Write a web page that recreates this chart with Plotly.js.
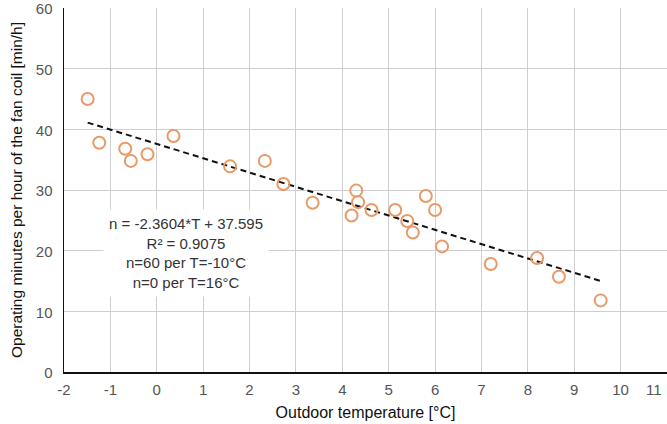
<!DOCTYPE html>
<html>
<head>
<meta charset="utf-8">
<script src="https://cdn.plot.ly/plotly-3.0.1.min.js"></script>
<style>html,body{margin:0;padding:0;background:#fff;}#chart{width:667px;height:424px;}</style>
</head>
<body>
<div id="chart"></div>
<script>
// Outdoor temperature [°C]
var temperature = [-1.49, -1.24, -0.68, -0.56, -0.20, 0.36, 1.58, 2.33, 2.73, 3.36, 4.20, 4.30, 4.34, 4.63, 5.14, 5.40, 5.52, 5.80, 6.00, 6.15, 7.20, 8.20, 8.67, 9.57];
// Operating minutes per hour [min/h]
var minutes = [45.0, 37.8, 36.8, 34.8, 35.9, 38.9, 33.9, 34.8, 31.0, 27.9, 25.8, 29.9, 28.0, 26.7, 26.7, 24.9, 23.0, 29.0, 26.7, 20.7, 17.8, 18.8, 15.7, 11.8];
// Linear regression coefficients
var slope = -2.3604;
var intercept = 37.595;
var annotationLines = ["n = -2.3604*T + 37.595", "R² = 0.9075", "n=60 per T=-10°C", "n=0 per T=16°C"];
var xTicks = [-2, -1, 0, 1, 2, 3, 4, 5, 6, 7, 8, 9, 10, 11];
var xTickLabels = ["-2", "-1", "0", "1", "2", "3", "4", "5", "6", "7", "8", "9", "10", "11"];
var yTicks = [0, 10, 20, 30, 40, 50, 60];
var yTickLabels = ["0", "10", "20", "30", "40", "50", "60"];

var tMin = Math.min.apply(null, temperature);
var tMax = Math.max.apply(null, temperature);
var trendX = [tMin, tMax];
var trendY = trendX.map(function (t) { return slope * t + intercept; });

var font = "'Liberation Sans', Arial, Helvetica, sans-serif";

// the last x tick sits on the page edge: its label is drawn right-aligned so it stays inside
var lastIdx = xTicks.length - 1;
var xText = xTickLabels.map(function (s, i) { return i === lastIdx ? '' : s; });

var traces = [
  {
    x: trendX, y: trendY, type: 'scatter', mode: 'lines',
    line: {color: '#111', width: 2, dash: '6px,4px'},
    hoverinfo: 'skip', showlegend: false
  },
  {
    x: temperature, y: minutes, type: 'scatter', mode: 'markers',
    marker: {symbol: 'circle-open', size: 12, color: '#E99A66', line: {width: 2, color: '#E99A66'}},
    showlegend: false
  }
];

var layout = {
  width: 667, height: 424,
  margin: {l: 64, r: 0, t: 8, b: 52},
  paper_bgcolor: '#fff', plot_bgcolor: '#fff',
  font: {family: font, size: 15, color: '#555'},
  xaxis: {
    range: [-2, 11], tickvals: xTicks, ticktext: xText,
    showgrid: true, gridcolor: '#cfcfd3', gridwidth: 1,
    zeroline: false, showline: true, linecolor: '#111', linewidth: 1.5,
    ticks: '', ticklabelstandoff: 3, ticklabeloverflow: 'allow',
    tickfont: {family: font, size: 15, color: '#555'},
    title: {text: 'Outdoor temperature [°C]', standoff: 10, font: {family: font, size: 16, color: '#111'}}
  },
  yaxis: {
    range: [0, 60], tickvals: yTicks, ticktext: yTickLabels,
    showgrid: true, gridcolor: '#cfcfd3', gridwidth: 1,
    zeroline: false, showline: true, linecolor: '#111', linewidth: 1.5,
    ticks: '', ticklabelstandoff: 7, ticklabeloverflow: 'allow', ticklabelshift: 1,
    tickfont: {family: font, size: 15, color: '#555'},
    title: {text: 'Operating minutes per hour of the fan coil [min/h]', standoff: 9, font: {family: font, size: 15.5, color: '#111'}}
  },
  annotations: [
    {
      x: 0.63, y: 19.6, xref: 'x', yref: 'y',
      text: annotationLines.join('<br>'), showarrow: false,
      align: 'center', xanchor: 'center', yanchor: 'middle',
      bgcolor: '#fff', borderpad: 5,
      font: {family: font, size: 15, color: '#333'}
    },
    {
      x: xTicks[lastIdx], y: 0, xref: 'x', yref: 'paper',
      text: xTickLabels[lastIdx], showarrow: false,
      xanchor: 'right', yanchor: 'top', xshift: -3, yshift: -7,
      font: {family: font, size: 15, color: '#555'}
    }
  ]
};

Plotly.newPlot('chart', traces, layout, {displayModeBar: false, staticPlot: true});
</script>
</body>
</html>
